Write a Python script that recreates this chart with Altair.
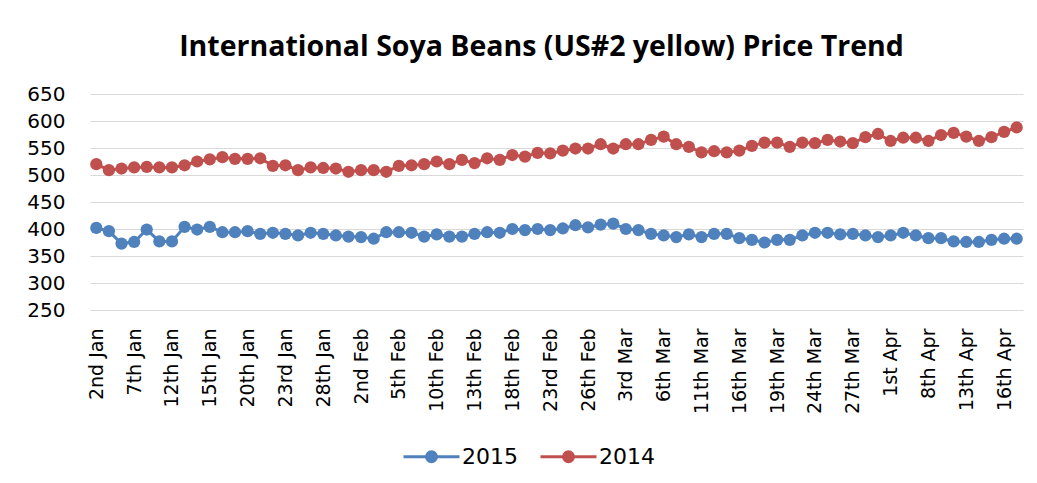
import altair as alt
import pandas as pd

dates = [
    "2nd Jan", "5th Jan", "6th Jan", "7th Jan", "8th Jan", "9th Jan", "12th Jan", "13th Jan",
    "14th Jan", "15th Jan", "16th Jan", "19th Jan", "20th Jan", "21st Jan", "22nd Jan", "23rd Jan",
    "26th Jan", "27th Jan", "28th Jan", "29th Jan", "30th Jan", "2nd Feb", "3rd Feb", "4th Feb",
    "5th Feb", "6th Feb", "9th Feb", "10th Feb", "11th Feb", "12th Feb", "13th Feb", "16th Feb",
    "17th Feb", "18th Feb", "19th Feb", "20th Feb", "23rd Feb", "24th Feb", "25th Feb", "26th Feb",
    "27th Feb", "2nd Mar", "3rd Mar", "4th Mar", "5th Mar", "6th Mar", "9th Mar", "10th Mar",
    "11th Mar", "12th Mar", "13th Mar", "16th Mar", "17th Mar", "18th Mar", "19th Mar", "20th Mar",
    "23rd Mar", "24th Mar", "25th Mar", "26th Mar", "27th Mar", "30th Mar", "31st Mar", "1st Apr",
    "2nd Apr", "7th Apr", "8th Apr", "9th Apr", "10th Apr", "13th Apr", "14th Apr", "15th Apr",
    "16th Apr", "17th Apr",
]

tick_labels = [
    "2nd Jan", "7th Jan", "12th Jan", "15th Jan", "20th Jan", "23rd Jan", "28th Jan", "2nd Feb",
    "5th Feb", "10th Feb", "13th Feb", "18th Feb", "23rd Feb", "26th Feb", "3rd Mar", "6th Mar",
    "11th Mar", "16th Mar", "19th Mar", "24th Mar", "27th Mar", "1st Apr", "8th Apr", "13th Apr",
    "16th Apr",
]

price_2015 = [
    402, 396, 373, 376, 399, 377, 377, 404, 399, 404, 394, 394, 396, 391, 393, 391,
    388, 393, 391, 388, 386, 385, 382, 394, 394,
    393, 386, 390, 386, 386, 391, 394, 393, 400, 398, 400, 398, 401, 407, 403, 408,
    410, 400, 398, 391, 388, 385, 390, 385, 391, 391,
    383, 380, 375, 380, 380, 388, 393, 393, 390, 391, 388, 385, 388, 393, 388, 383,
    383, 377, 376, 376, 380, 382, 382,
]

price_2014 = [
    520, 509, 512, 514, 515, 514, 514, 518, 525, 529, 533, 530, 530, 531, 517, 518,
    509, 514, 513, 512, 506, 509, 509, 506, 517,
    518, 520, 525, 520, 528, 522, 531, 528, 537, 534, 541, 540, 545, 549, 549, 557,
    549, 557, 557, 565, 571, 557, 552, 542, 544, 542,
    545, 554, 560, 560, 552, 560, 559, 565, 562, 559, 570, 576, 563, 569, 569, 563,
    574, 578, 571, 563, 570, 580, 588,
]

series = ["2015", "2014"]
colors = ["#4F81BD", "#C0504D"]
y_ticks = [250, 300, 350, 400, 450, 500, 550, 600, 650]

rows = []
for d, a, b in zip(dates, price_2015, price_2014):
    rows.append({"date": d, "year": series[0], "price": a})
    rows.append({"date": d, "year": series[1], "price": b})
df = pd.DataFrame(rows)

label_font = "DejaVu Sans"

x = alt.X(
    "date:N", sort=dates, title=None,
    scale=alt.Scale(type="point", padding=0.5),
    axis=alt.Axis(values=tick_labels, labelAngle=-90, ticks=False, domain=False, grid=False,
                  labelFont=label_font, labelFontSize=19, labelPadding=18, labelColor="#000000",
                  labelOverlap=False),
)
y = alt.Y(
    "price:Q", title=None,
    scale=alt.Scale(domain=[250, 650], nice=False, zero=False),
    axis=alt.Axis(values=y_ticks, ticks=False, domain=False, grid=True, gridColor="#d9d9d9",
                  gridWidth=1, labelFont=label_font, labelFontSize=20, labelPadding=25,
                  labelColor="#000000"),
)
color_scale = alt.Scale(domain=series, range=colors)

# line segment plus a solid dot built from concentric rings (works whether stroked or filled)
legend_symbol = (
    "M-1,0L1,0 "
    "M-0.178,0A0.178,0.178 0 1,0 0.178,0A0.178,0.178 0 1,0 -0.178,0Z "
    "M-0.1,0A0.1,0.1 0 1,0 0.1,0A0.1,0.1 0 1,0 -0.1,0Z "
    "M-0.03,0A0.03,0.03 0 1,0 0.03,0A0.03,0.03 0 1,0 -0.03,0Z"
)

legend = alt.Legend(
    title=None, orient="none", direction="horizontal", legendX=312, legendY=333,
    symbolType=legend_symbol, symbolSize=3136, symbolStrokeWidth=3, symbolOpacity=1,
    labelFont=label_font, labelFontSize=22, labelColor="#000000", labelOffset=1,
    columnPadding=16,
)
color = alt.Color("year:N", scale=color_scale, legend=legend)

lines = alt.Chart(df).mark_line(strokeWidth=3).encode(x=x, y=y, color=color)
points = alt.Chart(df).mark_point(filled=True, size=150, opacity=1).encode(x=x, y=y, color=color)

chart = alt.layer(lines, points).properties(
    width=933,
    height=216,
    padding={"left": 82, "top": 86, "right": 6, "bottom": 160},
    autosize=alt.AutoSizeParams(type="none"),
    title=alt.Title(
        "International Soya Beans (US#2 yellow) Price Trend",
        font="Open Sans", fontSize=28.5, fontWeight="bold", color="#000000",
        anchor="middle", frame="group", dx=-15, offset=23,
    ),
).configure_view(stroke=None)

chart.save("out.html", embed_options={"renderer": "svg", "actions": False})
